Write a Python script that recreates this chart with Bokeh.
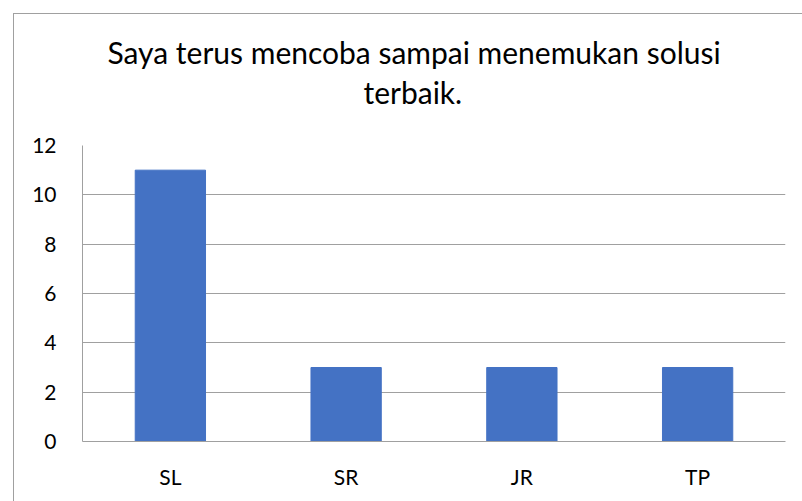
from bokeh.plotting import figure
from bokeh.models import FactorRange, Range1d, FixedTicker, Title
from bokeh.embed import file_html
from bokeh.resources import INLINE

categories = ["SL", "SR", "JR", "TP"]
values = [11, 3, 3, 3]
y_ticks = [0, 2, 4, 6, 8, 10, 12]
title_line1 = "Saya terus mencoba sampai menemukan solusi"
title_line2 = "terbaik."

FONT = "Lato"
GRAY = "#a0a0a0"

p = figure(
    x_range=FactorRange(*categories, range_padding=0),
    y_range=Range1d(0, 12),
    frame_width=703, frame_height=296,
    min_border_left=82, min_border_right=17,
    min_border_top=145, min_border_bottom=60,
    output_backend="svg", toolbar_location=None,
)
p.outline_line_color = None
p.border_fill_color = None
p.styles = {
    "background": (
        "linear-gradient(#a0a0a0, #a0a0a0) 13px 13px / 1px 100% no-repeat, "
        "linear-gradient(#a0a0a0, #a0a0a0) 13px 13px / 100% 1px no-repeat, #ffffff"
    )
}

p.vbar(x=categories, top=values, width=0.4, color="#4472C4")

p.xgrid.grid_line_color = None
p.ygrid.grid_line_color = GRAY
p.ygrid.grid_line_width = 1

p.yaxis.ticker = FixedTicker(ticks=y_ticks)
for ax in (p.xaxis[0], p.yaxis[0]):
    ax.axis_line_color = GRAY
    ax.axis_line_width = 1
    ax.major_tick_line_color = None
    ax.minor_tick_line_color = None
    ax.major_tick_out = 0
    ax.major_tick_in = 0
    ax.major_label_text_font = FONT
    ax.major_label_text_font_size = "21px"
    ax.major_label_text_color = "#000000"
p.yaxis.major_label_standoff = 26
p.xaxis.major_label_standoff = 22

# second title line; the trailing empty line leaves the gap above the plot area
p.add_layout(Title(text=title_line2 + "\n", align="left", offset=281, text_font=FONT,
                   text_font_size="30px", text_font_style="normal",
                   text_color="#000000", standoff=0), "above")

p.title.text = title_line1
p.title.align = "left"
p.title.offset = 25
p.title.text_font = FONT
p.title.text_font_size = "30px"
p.title.text_font_style = "normal"
p.title.text_color = "#000000"
p.title.standoff = 4

open("out.html", "w").write(file_html(p, INLINE))
